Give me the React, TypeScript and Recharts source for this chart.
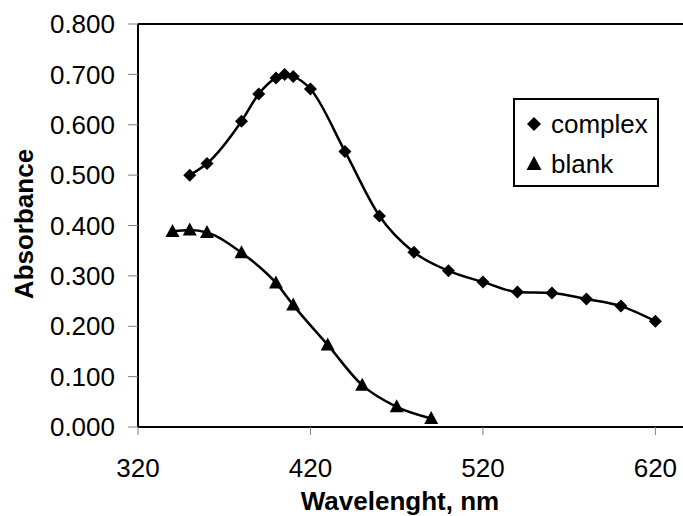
import { LineChart, Line, XAxis, YAxis, ReferenceLine, Label } from 'recharts';

const WL_COMPLEX = [350, 360, 380, 390, 400, 405, 410, 420, 440, 460, 480, 500, 520, 540, 560, 580, 600, 620];
const ABS_COMPLEX = [0.5, 0.523, 0.607, 0.661, 0.693, 0.7, 0.696, 0.671, 0.547, 0.419, 0.347, 0.31, 0.288, 0.268, 0.266, 0.254, 0.24, 0.21];
const WL_BLANK = [340, 350, 360, 380, 400, 410, 430, 450, 470, 490];
const ABS_BLANK = [0.388, 0.391, 0.386, 0.346, 0.286, 0.242, 0.163, 0.083, 0.04, 0.017];
const X_TICKS = [320, 420, 520, 620];
const Y_TICKS = [0, 0.1, 0.2, 0.3, 0.4, 0.5, 0.6, 0.7, 0.8];

const complexData = WL_COMPLEX.map((wl, i) => ({ wl, abs: ABS_COMPLEX[i] }));
const blankData = WL_BLANK.map((wl, i) => ({ wl, abs: ABS_BLANK[i] }));

const FONT = '"Liberation Sans", Arial, sans-serif';

const Diamond = (props: any) => {
  const { cx, cy, key } = props;
  if (cx == null || cy == null) return null;
  const r = 6.5;
  return <path key={key} d={`M${cx},${cy - r}L${cx + r},${cy}L${cx},${cy + r}L${cx - r},${cy}Z`} fill="#000" />;
};

const Triangle = (props: any) => {
  const { cx, cy, key } = props;
  if (cx == null || cy == null) return null;
  return <path key={key} d={`M${cx},${cy - 7.5}L${cx + 7},${cy + 5.5}L${cx - 7},${cy + 5.5}Z`} fill="#000" />;
};

// legend sits on top of the plot as a plain box
const LegendBox = () => (
  <div
    style={{
      position: 'absolute',
      left: 513,
      top: 98,
      width: 142,
      height: 85,
      border: '2px solid #000',
      background: '#fff',
      fontFamily: FONT,
      fontSize: 26,
      color: '#000',
    }}
  >
    <div style={{ display: 'flex', alignItems: 'center', height: 40, marginTop: 4 }}>
      <svg width={36} height={20}>
        <path d="M19,3L26,10L19,17L12,10Z" fill="#000" />
      </svg>
      <span>complex</span>
    </div>
    <div style={{ display: 'flex', alignItems: 'center', height: 40 }}>
      <svg width={36} height={20}>
        <path d="M19,2L26.5,16L11.5,16Z" fill="#000" />
      </svg>
      <span>blank</span>
    </div>
  </div>
);

export default function App() {
  return (
    <div style={{ position: 'absolute', left: 0, top: 0, width: 683, height: 516, background: '#fff' }}>
      <LineChart width={683} height={516} margin={{ top: 24, right: 0, left: 0, bottom: 0 }}>
        <XAxis
          type="number"
          dataKey="wl"
          domain={[320, 636]}
          ticks={X_TICKS}
          allowDataOverflow
          height={89}
          tickSize={8}
          tickMargin={24}
          axisLine={{ stroke: '#000', strokeWidth: 2 }}
          tickLine={{ stroke: '#808080' }}
          tick={{ fill: '#000', fontSize: 26, fontFamily: FONT }}
        >
          <Label
            content={() => (
              <text x={400} y={510} textAnchor="middle" fontFamily={FONT} fontWeight="bold" fontSize={26} fill="#000">
                Wavelenght, nm
              </text>
            )}
          />
        </XAxis>
        <YAxis
          type="number"
          dataKey="abs"
          domain={[0, 0.8]}
          ticks={Y_TICKS}
          width={138}
          tickSize={10}
          tickMargin={13}
          tickFormatter={(v: number) => v.toFixed(3)}
          axisLine={{ stroke: '#000', strokeWidth: 2 }}
          tickLine={{ stroke: '#808080' }}
          tick={{ fill: '#000', fontSize: 26, fontFamily: FONT }}
        >
          <Label
            content={() => (
              <text
                x={33}
                y={224}
                transform="rotate(-90 33 224)"
                textAnchor="middle"
                fontFamily={FONT}
                fontWeight="bold"
                fontSize={26}
                fill="#000"
              >
                Absorbance
              </text>
            )}
          />
        </YAxis>
        <ReferenceLine y={0.8} stroke="#000" strokeWidth={2} />
        <Line
          data={complexData}
          dataKey="abs"
          name="complex"
          type="monotone"
          stroke="#000"
          strokeWidth={2.5}
          dot={Diamond}
          activeDot={false}
          isAnimationActive={false}
        />
        <Line
          data={blankData}
          dataKey="abs"
          name="blank"
          type="monotone"
          stroke="#000"
          strokeWidth={2.5}
          dot={Triangle}
          activeDot={false}
          isAnimationActive={false}
        />
      </LineChart>
      <LegendBox />
    </div>
  );
}
